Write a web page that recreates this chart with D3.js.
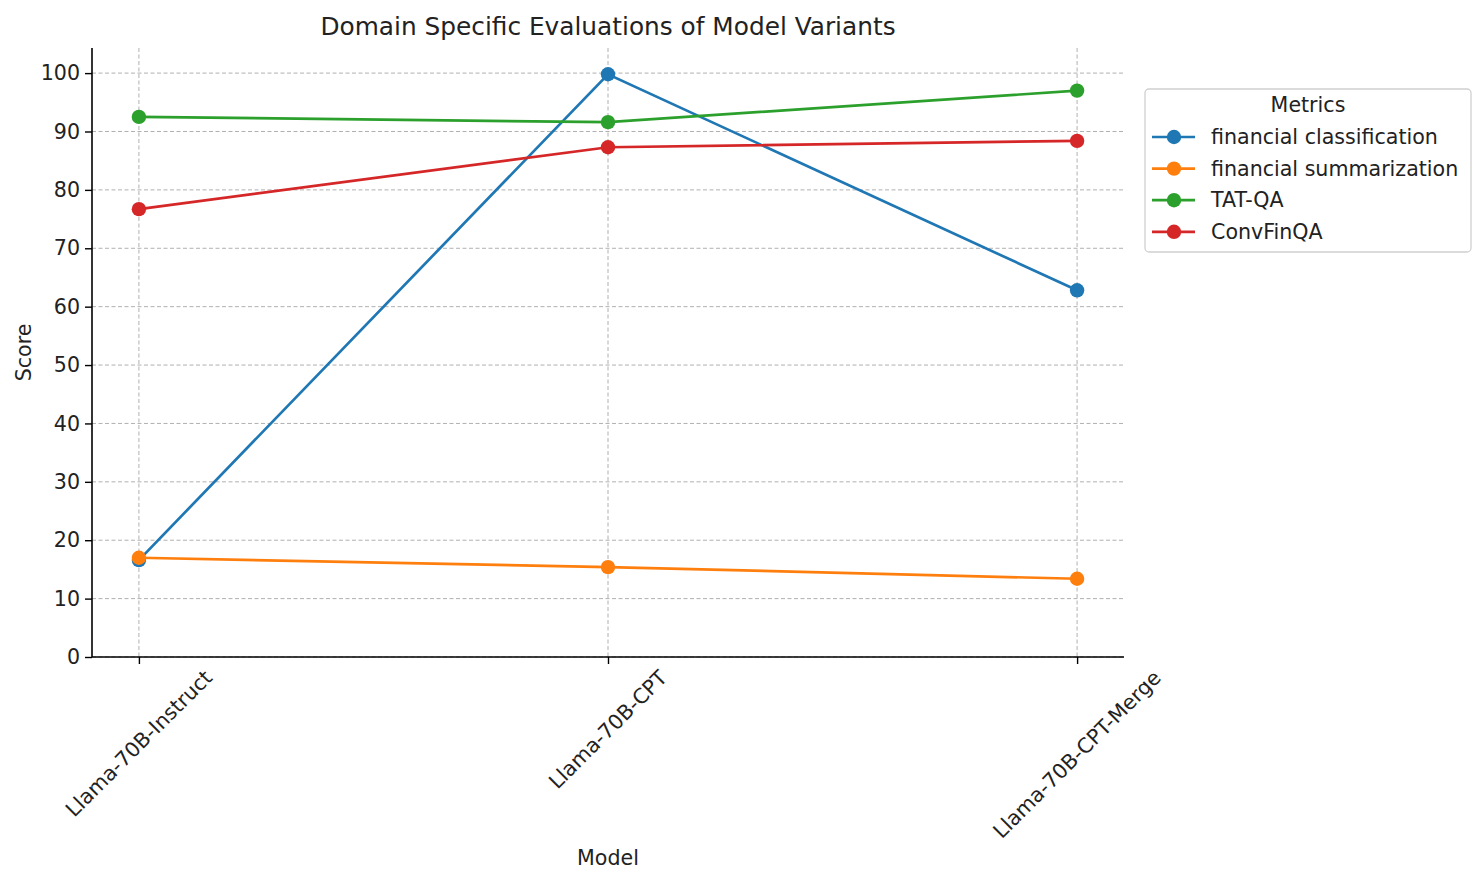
<!DOCTYPE html>
<html>
<head>
<meta charset="utf-8">
<script src="https://cdn.jsdelivr.net/npm/d3@7"></script>
<style>
  body { margin: 0; background: #fff; }
  text { font-family: "DejaVu Sans", sans-serif; fill: #222; }
</style>
</head>
<body>
<div class="chart"></div>
<script>
// data
const models = ["Llama-70B-Instruct", "Llama-70B-CPT", "Llama-70B-CPT-Merge"];
const metrics = ["financial classification", "financial summarization", "TAT-QA", "ConvFinQA"];
const classification = [16.6, 99.8, 62.8];
const summarization = [17.0, 15.4, 13.4];
const tatqa = [92.5, 91.6, 97.0];
const convfinqa = [76.7, 87.3, 88.4];
const yTicks = [0, 10, 20, 30, 40, 50, 60, 70, 80, 90, 100];

const seriesValues = [classification, summarization, tatqa, convfinqa];
const colors = ["#1f77b4", "#ff7f0e", "#2ca02c", "#d62728"];

// constants
const width = 1484, height = 886;
const plot_left = 92, plot_right = 1124, plot_top = 48, plot_bottom = 657;
const font_size = "20.6px";

const svg = d3.select(".chart").append("svg")
    .attr("width", width)
    .attr("height", height);

// scales
const x_scale = d3.scaleLinear().domain([-0.1, 2.1]).range([plot_left, plot_right]);
const y_scale = d3.scaleLinear().domain([0, 104.3]).range([plot_bottom, plot_top]);

// grid
const grid = svg.append("g").attr("class", "grid");
grid.selectAll(".hgrid").data(yTicks).enter().append("line")
    .attr("x1", plot_left).attr("x2", plot_right)
    .attr("y1", d => y_scale(d)).attr("y2", d => y_scale(d))
    .attr("stroke", "#b0b0b0").attr("stroke-width", 1)
    .attr("stroke-dasharray", "4,2.5");
grid.selectAll(".vgrid").data(models).enter().append("line")
    .attr("x1", (d, i) => x_scale(i)).attr("x2", (d, i) => x_scale(i))
    .attr("y1", plot_top).attr("y2", plot_bottom)
    .attr("stroke", "#b0b0b0").attr("stroke-width", 1)
    .attr("stroke-dasharray", "4,2.5");

// y axis
const y_axis = d3.axisLeft(y_scale).tickValues(yTicks).tickSize(7).tickPadding(5);
const yg = svg.append("g")
    .attr("transform", "translate(" + plot_left + ",0)")
    .call(y_axis);
yg.select(".domain").attr("stroke", "#000").attr("stroke-width", 1.6)
    .attr("d", "M0," + plot_bottom + "V" + plot_top);
yg.selectAll(".tick line").attr("stroke", "#000").attr("stroke-width", 1.4);
yg.selectAll(".tick text").style("font-size", font_size).style("font-family", "DejaVu Sans").attr("fill", "#222");

// x axis
const x_axis = d3.axisBottom(x_scale).tickValues([0, 1, 2]).tickSize(7).tickFormat("");
const xg = svg.append("g")
    .attr("transform", "translate(0," + plot_bottom + ")")
    .call(x_axis);
xg.select(".domain").attr("stroke", "#000").attr("stroke-width", 1.6)
    .attr("d", "M" + plot_left + ",0H" + plot_right);
xg.selectAll(".tick line").attr("stroke", "#000").attr("stroke-width", 1.4);

// rotated x labels, centred on the tick like matplotlib
models.forEach(function(m, i) {
    const t = svg.append("text")
        .attr("text-anchor", "middle")
        .attr("dominant-baseline", "central")
        .style("font-size", font_size)
        .text(m);
    const w = t.node().getComputedTextLength();
    const h = 20;
    const half = (w + h) / (2 * Math.SQRT2);
    const cx = x_scale(i);
    const cy = plot_bottom + 10 + half;
    t.attr("transform", "translate(" + cx + "," + cy + ") rotate(-45)");
});

// axis labels
svg.append("text")
    .attr("x", (plot_left + plot_right) / 2).attr("y", 865)
    .attr("text-anchor", "middle")
    .style("font-size", font_size)
    .text("Model");
svg.append("text")
    .attr("transform", "translate(31," + ((plot_top + plot_bottom) / 2) + ") rotate(-90)")
    .attr("text-anchor", "middle")
    .style("font-size", font_size)
    .text("Score");

// title
svg.append("text")
    .attr("x", (plot_left + plot_right) / 2).attr("y", 35)
    .attr("text-anchor", "middle")
    .style("font-size", "24.8px")
    .text("Domain Specific Evaluations of Model Variants");

// lines and dots
const line = d3.line()
    .x((d, i) => x_scale(i))
    .y(d => y_scale(d));

seriesValues.forEach(function(vals, k) {
    svg.append("path")
        .datum(vals)
        .attr("d", line)
        .attr("fill", "none")
        .attr("stroke", colors[k])
        .attr("stroke-width", 2.7);
    svg.selectAll(".dot" + k)
        .data(vals).enter()
        .append("circle")
        .attr("cx", (d, i) => x_scale(i))
        .attr("cy", d => y_scale(d))
        .attr("r", 7.2)
        .attr("fill", colors[k]);
});

// legend
const lg = svg.append("g").attr("transform", "translate(1145,89)");
lg.append("rect")
    .attr("width", 326).attr("height", 163)
    .attr("rx", 4)
    .attr("fill", "#fff").attr("fill-opacity", 0.8)
    .attr("stroke", "#d0d0d0").attr("stroke-width", 1.3);
lg.append("text")
    .attr("x", 163).attr("y", 23)
    .attr("text-anchor", "middle")
    .style("font-size", font_size)
    .text("Metrics");
metrics.forEach(function(name, k) {
    const yy = 48 + k * 31.6;
    lg.append("line")
        .attr("x1", 7).attr("x2", 50)
        .attr("y1", yy).attr("y2", yy)
        .attr("stroke", colors[k]).attr("stroke-width", 2.7);
    lg.append("circle")
        .attr("cx", 29).attr("cy", yy).attr("r", 7.2)
        .attr("fill", colors[k]);
    lg.append("text")
        .attr("x", 66).attr("y", yy + 7)
        .style("font-size", font_size)
        .text(name);
});
</script>
</body>
</html>
